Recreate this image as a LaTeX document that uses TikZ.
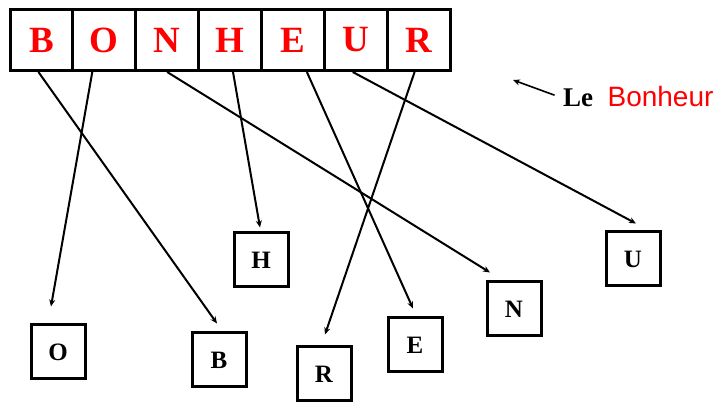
\documentclass[tikz,border=0pt]{standalone}
\usepackage{fontspec}
\setmainfont{Liberation Serif}
\newfontfamily\arial{Liberation Sans}
\usetikzlibrary{arrows.meta,positioning}
\tikzset{
>={Stealth[length=7pt,width=6pt]},
case/.style={draw,line width=3pt,minimum width=62.86pt,minimum height=61pt,inner sep=0pt,text=red,font=\bfseries\fontsize{37}{37}\selectfont},
boite/.style={draw,line width=3pt,minimum size=54pt,inner sep=0pt,font=\bfseries\fontsize{25}{25}\selectfont},
fleche/.style={->,line width=2pt}}

\begin{document}
\begin{tikzpicture}[x=1pt,y=-1pt]
\useasboundingbox (0,0) rectangle (716,403);

% le mot
\foreach \l [count=\i] in {B,O,N,H,E,U,R}
  \node[case] (haut-\l) at ({10+62.86*(\i-0.5)},40) {\l};

% les lettres
\node[boite] (bas-O) at (58,352) {O};
\node[boite] (bas-B) at (219,360) {B};
\node[boite] (bas-H) at (261,260) {H};
\node[boite] (bas-R) at (324,374) {R};
\node[boite] (bas-E) at (415,345) {E};
\node[boite] (bas-N) at (514,309) {N};
\node[boite] (bas-U) at (633,259) {U};

\draw[fleche] ([xshift=-3pt]haut-B.south) -- ([xshift=-2pt,yshift=8pt]bas-B.north);
\draw[fleche] ([xshift=-12pt]haut-O.south) -- ([xshift=-7pt,yshift=17pt]bas-O.north);
\draw[fleche] (haut-N.south) -- ([xshift=-24pt,yshift=8pt]bas-N.north);
\draw[fleche] ([xshift=3pt]haut-H.south) -- ([xshift=-1pt,yshift=4pt]bas-H.north);
\draw[fleche] ([xshift=14pt]haut-E.south) -- ([xshift=-2pt,yshift=8pt]bas-E.north);
\draw[fleche] ([xshift=-3pt]haut-U.south) -- ([xshift=3pt,yshift=7pt]bas-U.north);
\draw[fleche] ([xshift=-4pt]haut-R.south) -- ([xshift=1pt,yshift=11pt]bas-R.north);

% legende
\node[inner sep=0pt,anchor=base west,font=\bfseries\fontsize{27}{27}\selectfont] (le) at (563,107) {Le};
\node[inner sep=0pt,anchor=base west,text=red,font=\arial\fontsize{28}{28}\selectfont] (bonheur) at ([xshift=14pt]le.base east) {Bonheur};
\coordinate (pointe) at (513,80);
\draw[fleche,line width=1.6pt,shorten <=9pt] (le.west) -- (pointe);

\end{tikzpicture}
\end{document}
